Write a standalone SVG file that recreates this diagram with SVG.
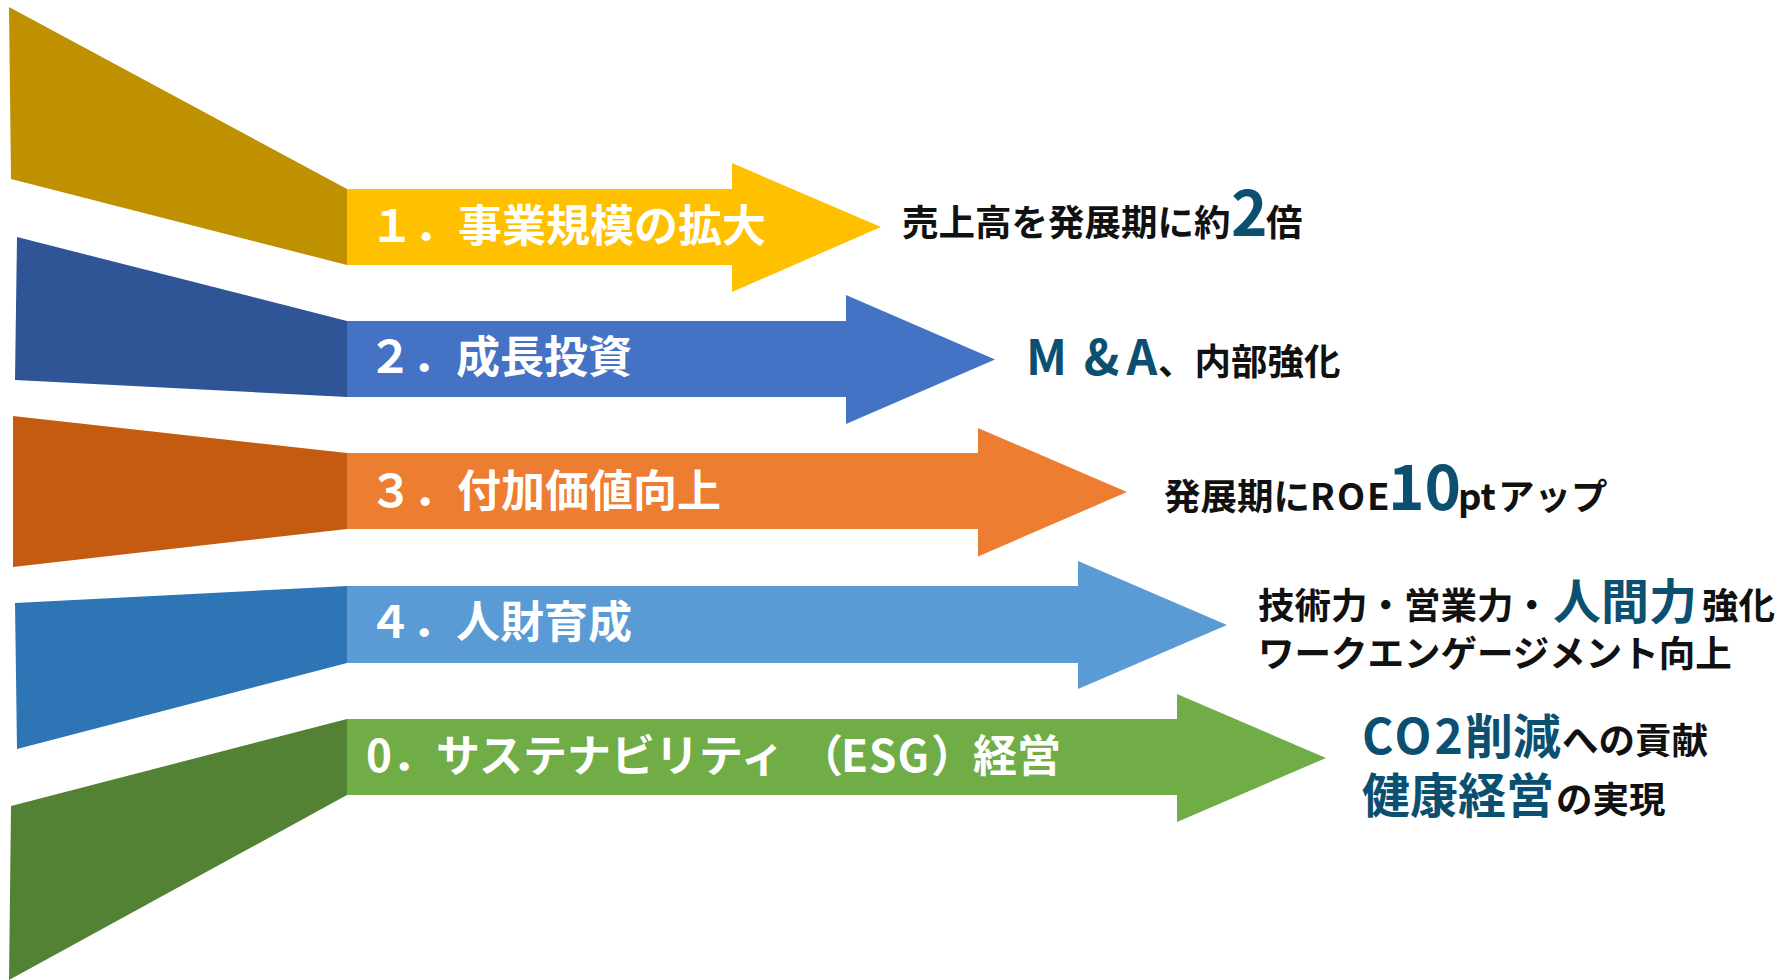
<svg xmlns="http://www.w3.org/2000/svg" width="1789" height="980" viewBox="0 0 1789 980">
<style>
text{font-family:"Noto Sans CJK JP","Noto Sans",sans-serif;font-weight:700}
.lbl{fill:#ffffff;font-size:44px}
.desc{fill:#111111;font-size:36.5px}
.hl{fill:#0B4F71;font-size:48px}
.big{fill:#0B4F71;font-size:62px}
</style>
<rect width="1789" height="980" fill="#ffffff"/>
<g id="node-1">
<polygon points="9,7 347,189 347,265 11,179" fill="#BF9000"/>
<polygon points="347,189 732,189 732,163 881,227 732,292 732,265 347,265" fill="#FFC000"/>
<text class="lbl" x="370" y="242">１．事業規模の拡大</text>
</g>
<g id="node-2">
<polygon points="17,237 347,321 347,397 15,380" fill="#2F5597"/>
<polygon points="347,321 846,321 846,295 995,359.5 846,424 846,397 347,397" fill="#4472C4"/>
<text class="lbl" x="368" y="373">２．成長投資</text>
</g>
<g id="node-3">
<polygon points="13,416 347,453 347,529 13,567" fill="#C55A11"/>
<polygon points="347,453 978,453 978,428 1127,492 978,556.5 978,529 347,529" fill="#ED7D31"/>
<text class="lbl" x="369" y="506.5">３．付加価値向上</text>
</g>
<g id="node-4">
<polygon points="15,603 347,586 347,663 17,749" fill="#2E75B6"/>
<polygon points="347,586 1078,586 1078,561 1227,625 1078,689 1078,663 347,663" fill="#5B9BD5"/>
<text class="lbl" x="368" y="638">４．人財育成</text>
</g>
<g id="node-0">
<polygon points="11,806 347,719 347,795 9,980" fill="#548235"/>
<polygon points="347,719 1177,719 1177,694 1326,758 1177,822 1177,795 347,795" fill="#70AD47"/>
<text class="lbl" y="772"><tspan x="366">0．サステナビリティ</tspan><tspan x="799">（</tspan><tspan x="841" letter-spacing="1">ESG</tspan><tspan x="931">）</tspan><tspan x="973">経営</tspan></text>
</g>
<g id="desc-1">
<text class="desc" y="236"><tspan x="902">売上高を発展期に約</tspan><tspan class="big" x="1231">2</tspan><tspan x="1266">倍</tspan></text>
</g>
<g id="desc-2">
<text class="hl" y="375" text-anchor="middle" font-size="50"><tspan x="1046.5">M</tspan><tspan x="1101.5">&amp;</tspan><tspan x="1142">A</tspan></text>
<text class="desc" x="1158" y="375">、内部強化</text>
</g>
<g id="desc-3">
<text class="desc" y="510"><tspan x="1164">発展期に</tspan><tspan letter-spacing="2">ROE</tspan><tspan class="big" x="1388">10</tspan><tspan x="1458">pt</tspan><tspan x="1498">アップ</tspan></text>
</g>
<g id="desc-4">
<text class="desc" y="619"><tspan x="1258">技術力・営業力・</tspan><tspan class="hl" x="1553">人間力</tspan><tspan x="1702">強化</tspan></text>
<text class="desc" x="1258" y="667">ワークエンゲージメント向上</text>
</g>
<g id="desc-0">
<text class="desc" y="754"><tspan class="hl" x="1362" letter-spacing="3">CO2</tspan><tspan class="hl" x="1465">削減</tspan><tspan x="1562">への貢献</tspan></text>
<text class="desc" y="813"><tspan class="hl" x="1362">健康経営</tspan><tspan x="1556">の実現</tspan></text>
</g>
</svg>
